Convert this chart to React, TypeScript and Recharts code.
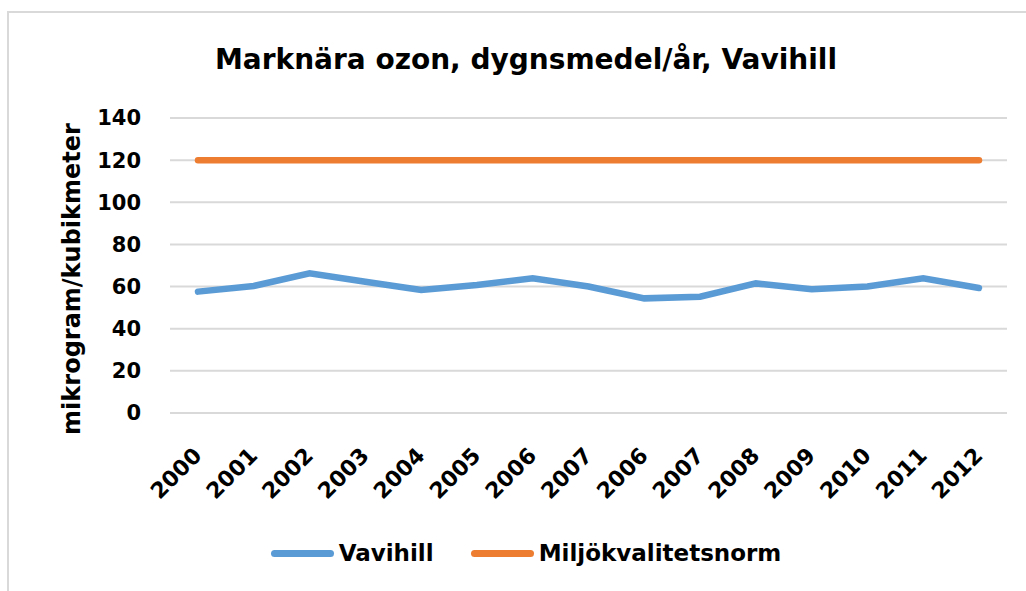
import React from 'react';
import { LineChart, Line, XAxis, YAxis, CartesianGrid, Legend, Label } from 'recharts';

const years = ['2000', '2001', '2002', '2003', '2004', '2005', '2006', '2007', '2006', '2007', '2008', '2009', '2010', '2011', '2012'];
const vavihill = [57.6, 60.3, 66.3, 62.3, 58.4, 60.7, 63.9, 60, 54.4, 55.2, 61.5, 58.7, 60, 63.9, 59.3];
const norm = [120, 120, 120, 120, 120, 120, 120, 120, 120, 120, 120, 120, 120, 120, 120];
const yTicks = [0, 20, 40, 60, 80, 100, 120, 140];
const legendOrder = ['Vavihill', 'Miljökvalitetsnorm'];

const data = years.map((year, i) => ({ year, vavihill: vavihill[i], norm: norm[i] }));

const FONT = '"DejaVu Sans", sans-serif';

const XTick = ({ x, y, payload }: any) => (
  <g transform={`translate(${x + 5},${y + 44}) rotate(-45)`}>
    <text textAnchor="end" fontFamily={FONT} fontWeight="bold" fontSize={22} fill="#000">
      {payload.value}
    </text>
  </g>
);

const LegendContent = ({ payload }: any) => {
  const items = [...(payload || [])].sort((a: any, b: any) => legendOrder.indexOf(a.value) - legendOrder.indexOf(b.value));
  return (
    <div style={{ display: 'flex', justifyContent: 'center', gap: 37, fontFamily: FONT, fontWeight: 'bold', fontSize: 23, color: '#000' }}>
      {items.map((p: any) => (
        <div key={p.value} style={{ display: 'flex', alignItems: 'center' }}>
          <span style={{ display: 'inline-block', width: 63, height: 7, borderRadius: 4, background: p.color, marginRight: 5 }} />
          <span>{p.value}</span>
        </div>
      ))}
    </div>
  );
};

export default function App() {
  return (
    <div style={{ position: 'fixed', left: 0, top: 0, width: 1026, height: 591, background: '#fff', overflow: 'hidden' }}>
      <div style={{ position: 'absolute', left: 7, top: 11, width: 1100, height: 700, border: '2px solid #d9d9d9' }} />
      <div
        style={{
          position: 'absolute', left: 0, top: 43, width: 1052, textAlign: 'center',
          fontFamily: FONT, fontWeight: 'bold', fontSize: 28, color: '#000',
        }}
      >
        Marknära ozon, dygnsmedel/år, Vavihill
      </div>
      <div style={{ position: 'absolute', left: 0, top: 0 }}>
        <LineChart width={1026} height={591} data={data} margin={{ top: 118, right: 19, left: 0, bottom: 0 }}>
          <CartesianGrid vertical={false} stroke="#d9d9d9" strokeWidth={2} />
          <XAxis
            dataKey="year"
            height={178}
            axisLine={false}
            tickLine={false}
            tickSize={0}
            tickMargin={0}
            interval={0}
            padding={{ left: 28, right: 28 }}
            tick={<XTick />}
          />
          <YAxis
            width={170}
            domain={[0, 140]}
            ticks={yTicks}
            axisLine={false}
            tickLine={false}
            tickSize={0}
            tickMargin={29}
            tick={{ fontFamily: FONT, fontWeight: 'bold', fontSize: 21, fill: '#000' }}
          >
            <Label
              content={() => (
                <text
                  transform="translate(72,279) rotate(-90)"
                  textAnchor="middle"
                  dominantBaseline="central"
                  fontFamily={FONT}
                  fontWeight="bold"
                  fontSize={24}
                  fill="#000"
                >
                  mikrogram/kubikmeter
                </text>
              )}
            />
          </YAxis>
          <Legend
            verticalAlign="middle"
            layout="horizontal"
            content={<LegendContent />}
            wrapperStyle={{ position: 'absolute', top: 540, left: 0, width: 1052, height: 32 }}
          />
          <Line
            type="linear"
            dataKey="vavihill"
            name="Vavihill"
            stroke="#5b9bd5"
            strokeWidth={6.5}
            strokeLinecap="round"
            dot={false}
            activeDot={false}
            isAnimationActive={false}
          />
          <Line
            type="linear"
            dataKey="norm"
            name="Miljökvalitetsnorm"
            stroke="#ed7d31"
            strokeWidth={6.5}
            strokeLinecap="round"
            dot={false}
            activeDot={false}
            isAnimationActive={false}
          />
        </LineChart>
      </div>
    </div>
  );
}
